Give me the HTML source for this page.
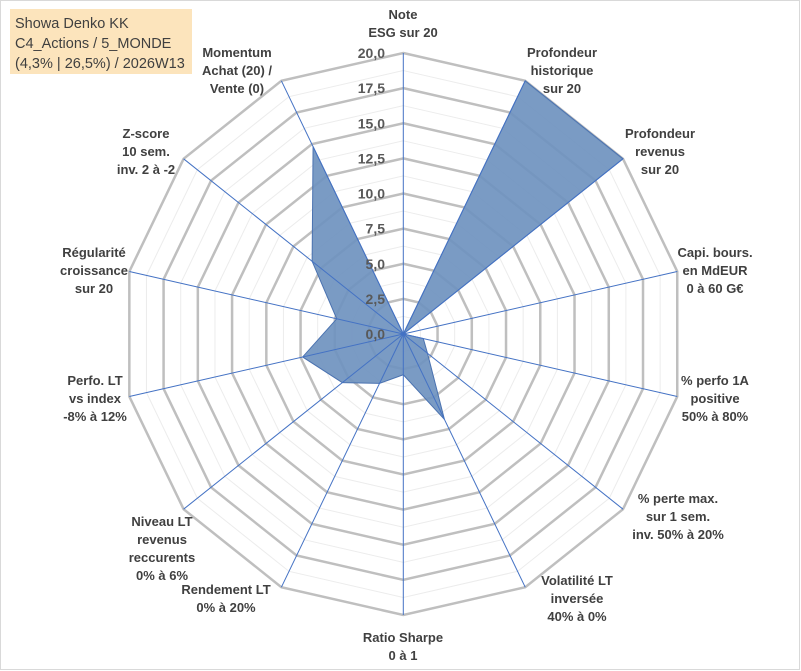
<!DOCTYPE html>
<html><head><meta charset="utf-8"><style>
body{margin:0;background:#fff;}
svg{display:block;font-family:"Liberation Sans",sans-serif;}
</style></head><body>
<svg id="chart" width="801" height="671" viewBox="0 0 801 671">
<rect x="0.5" y="0.5" width="799" height="669" fill="#fff" stroke="#d9d9d9"/>
<rect x="10" y="9" width="182" height="65" fill="#fce4bc"/>
<g font-size="14.5" fill="#404040">
<text x="15" y="28">Showa Denko KK</text>
<text x="15" y="48">C4_Actions / 5_MONDE</text>
<text x="15" y="68">(4,3% | 26,5%) / 2026W13</text>
</g>
<g id="grid"></g><g id="series"></g><g id="axes"></g><g id="ticks"></g><g id="labels"></g>
</svg>
<script>
const categories=[["Note","ESG sur 20"],["Profondeur","historique","sur 20"],["Profondeur","revenus","sur 20"],["Capi. bours.","en MdEUR","0 à 60 G€"],["% perfo 1A","positive","50% à 80%"],["% perte max.","sur 1 sem.","inv. 50% à 20%"],["Volatilité LT","inversée","40% à 0%"],["Ratio Sharpe","0 à 1"],["Rendement LT","0% à 20%"],["Niveau LT","revenus","reccurents","0% à 6%"],["Perfo. LT","vs index","-8% à 12%"],["Régularité","croissance","sur 20"],["Z-score","10 sem.","inv. 2 à -2"],["Momentum","Achat (20) /","Vente (0)"]];
const values=[0,20,20,0,1.46,2.2,6.75,2.9,3.9,5.55,7.35,4.86,8.3,14.8];
const tickLabels=["0,0","2,5","5,0","7,5","10,0","12,5","15,0","17,5","20,0"];
const maxV=20;
const labelPos=[[403,14],[562,52],[660,133],[715,252],[715,380],[678,498],[577,580],[403,637],[226,589],[162,521],[95,380],[94,252],[146,133],[237,52]];
const NS="http://www.w3.org/2000/svg";
const cx=403.3,cy=334,R=281,n=categories.length;
function ang(i){return 2*Math.PI*i/n;}
function pt(i,v){const r=v/maxV*R;return [cx+r*Math.sin(ang(i)),cy-r*Math.cos(ang(i))];}
function mk(tag,attrs,parent){const e=document.createElementNS(NS,tag);for(const k in attrs)e.setAttribute(k,attrs[k]);parent.appendChild(e);return e;}
const grid=document.getElementById('grid');
for(let k=1;k<=16;k++){const v=k*1.25;const pts=[];for(let i=0;i<n;i++)pts.push(pt(i,v).join(','));
const p=mk('polygon',{points:pts.join(' '),fill:'none',stroke:k%2?'#ececec':'#bfbfbf','stroke-width':k%2?1:2.5},grid);

}
const series=document.getElementById('series');
const sp=values.map((v,i)=>pt(i,v).join(',')).join(' ');
const poly=mk('polygon',{points:sp,fill:'#6f93bf','fill-opacity':0.92,stroke:'#4a72b0','stroke-width':1},series);


const axes=document.getElementById('axes');
for(let i=0;i<n;i++){const [x,y]=pt(i,maxV);
const l=mk('line',{x1:cx,y1:cy,x2:x,y2:y,stroke:'#4472c4','stroke-width':1},axes);

}
const ticks=document.getElementById('ticks');
tickLabels.forEach((t,k)=>{const v=k*2.5;const y=cy-v/maxV*R;
const e=mk('text',{x:385,y:y+5,'text-anchor':'end','font-size':14,'font-weight':'bold',fill:'#595959'},ticks);e.textContent=t;

});
const labels=document.getElementById('labels');
categories.forEach((lines,i)=>{const [x,y0]=labelPos[i];
const g=mk('text',{'text-anchor':'middle','font-size':13,'font-weight':'bold',fill:'#404040'},labels);


lines.forEach((s,j)=>{const ts=mk('tspan',{x:x,y:y0+j*18+5},g);ts.textContent=s;});});
</script>
</body></html>
